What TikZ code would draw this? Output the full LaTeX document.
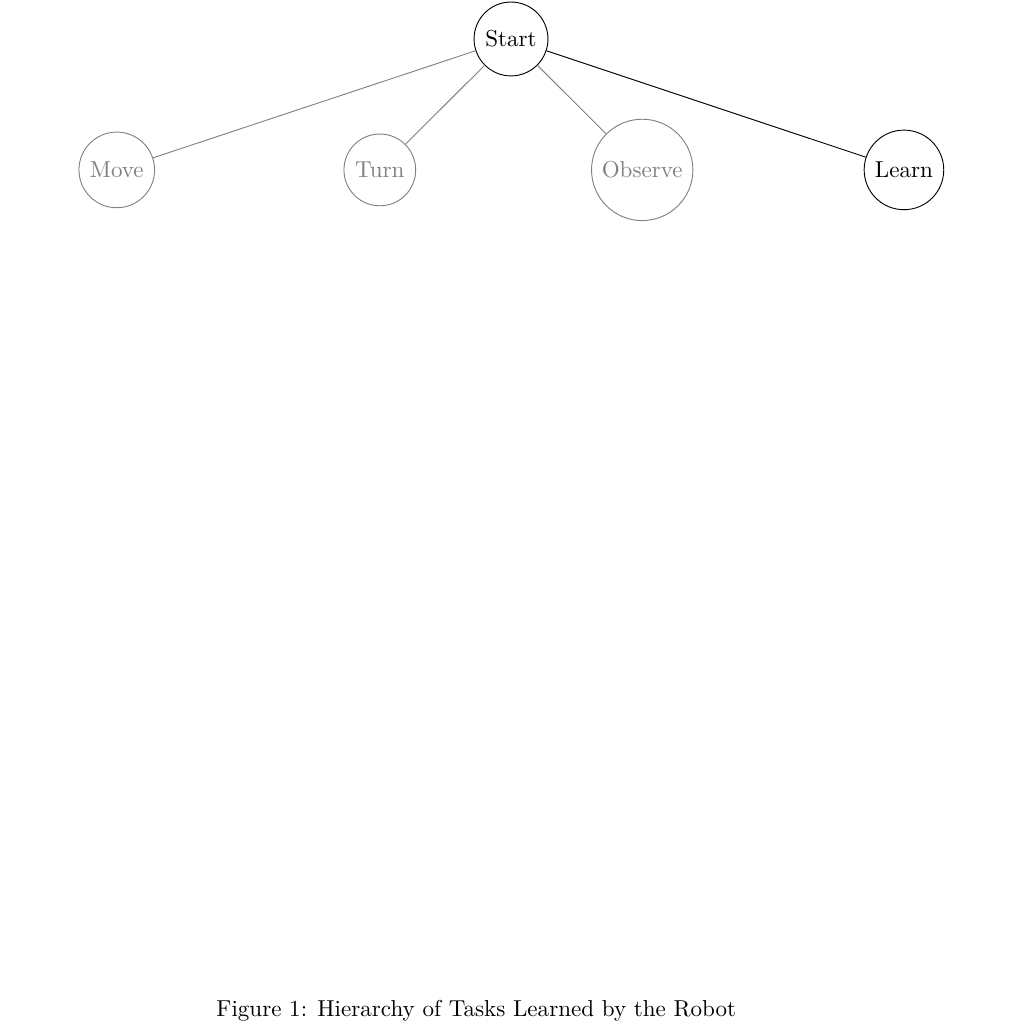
\documentclass[tikz,border=0pt]{standalone}
\begin{document}
\begin{tikzpicture}[
  task/.style={circle,draw,inner sep=3.33pt},
  faded/.style={task,draw=gray,text=gray},
  fadedline/.style={draw=gray}
]
\useasboundingbox (0,0) rectangle (15.61,-15.61);
\node[task] (start) at (7.79,-0.594) {Start};
\node[faded] (move) at (1.78,-2.59) {Move};
\node[faded] (turn) at (5.79,-2.59) {Turn};
\node[faded] (observe) at (9.79,-2.59) {Observe};
\node[task] (learn) at (13.78,-2.59) {Learn};
\draw[fadedline] (start) -- (move);
\draw[fadedline] (start) -- (turn);
\draw[fadedline] (start) -- (observe);
\draw (start) -- (learn);
\node (caption) at (7.26,-15.41) {Figure 1: Hierarchy of Tasks Learned by the Robot};
\end{tikzpicture}
\end{document}
